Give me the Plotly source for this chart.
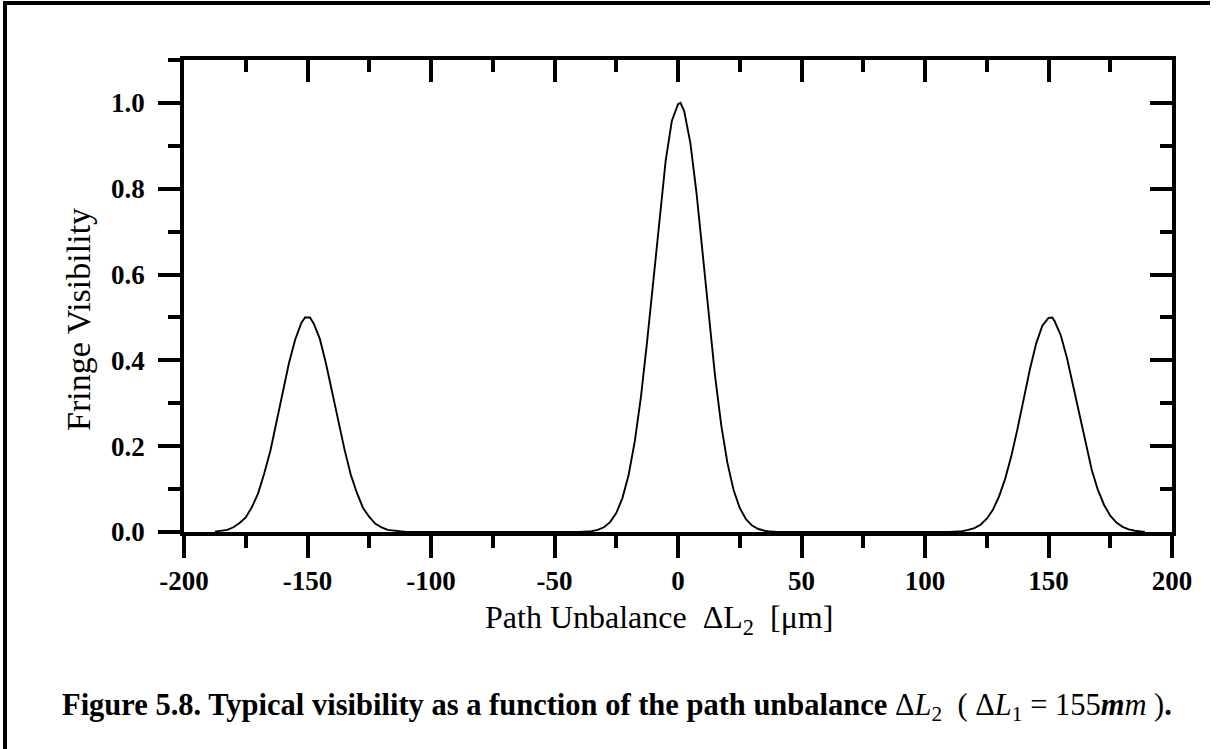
import plotly.graph_objects as go

# Fringe visibility against the path unbalance dL2 (three coherence peaks)
x_left = [-187.5, -185, -182.5, -180, -177.5, -175, -172.5, -170, -167.5, -165,
          -162.5, -160, -157.5, -155, -152.5, -151, -149, -147.5, -145, -142.5,
          -140, -137.5, -135, -132.5, -130, -127.5, -125, -122.5, -120, -117.5,
          -115, -112.5, -110]
v_left = [0.001, 0.003, 0.005, 0.011, 0.021, 0.034, 0.058, 0.090, 0.137, 0.190,
          0.258, 0.326, 0.394, 0.448, 0.487, 0.500, 0.500, 0.486, 0.450, 0.392,
          0.327, 0.255, 0.192, 0.134, 0.091, 0.056, 0.035, 0.019, 0.011, 0.005,
          0.003, 0.001, 0.000]

x_mid = [-40, -37.5, -35, -32.5, -30, -27.5, -25, -22.5, -20, -17.5, -15, -12.5,
         -10, -7.5, -5, -2.5, 0, 1, 2.5, 5, 7.5, 10, 12.5, 15, 17.5, 20, 22.5,
         25, 27.5, 30, 32.5, 35, 37.5, 40]
v_mid = [0.000, 0.001, 0.002, 0.005, 0.011, 0.023, 0.044, 0.079, 0.133, 0.211,
         0.315, 0.444, 0.589, 0.735, 0.865, 0.958, 0.997, 1.000, 0.981, 0.907,
         0.790, 0.648, 0.501, 0.364, 0.249, 0.161, 0.098, 0.056, 0.030, 0.015,
         0.007, 0.003, 0.001, 0.000]

x_right = [110, 112.5, 115, 117.5, 120, 122.5, 125, 127.5, 130, 132.5, 135, 137.5,
           140, 142.5, 145, 147.5, 150, 151.5, 152.5, 155, 157.5, 160, 162.5, 165,
           167.5, 170, 172.5, 175, 177.5, 180, 182.5, 185, 187.5, 189]
v_right = [0.000, 0.001, 0.002, 0.005, 0.009, 0.017, 0.031, 0.052, 0.083, 0.125,
           0.178, 0.242, 0.312, 0.380, 0.439, 0.481, 0.499, 0.500, 0.491, 0.458,
           0.405, 0.340, 0.270, 0.203, 0.145, 0.098, 0.063, 0.038, 0.022, 0.012,
           0.006, 0.003, 0.001, 0.000]

x_um = x_left + x_mid + x_right
visibility = v_left + v_mid + v_right

x_ticks = [-200, -150, -100, -50, 0, 50, 100, 150, 200]
x_tick_text = ["-200", "-150", "-100", "-50", "0", "50", "100", "150", "200"]
y_ticks = [0.0, 0.2, 0.4, 0.6, 0.8, 1.0]
y_tick_text = ["0.0", "0.2", "0.4", "0.6", "0.8", "1.0"]

W, H = 1228, 749
ML, MR, MT, MB = 184, 56, 60, 217
PW, PH = W - ML - MR, H - MT - MB


def px(xp):
    return (xp - ML) / PW


def py(yp):
    return (H - MB - yp) / PH


SERIF = "Liberation Serif"
AX_W = 3.5
TK_W = 3.5

fig = go.Figure()
fig.add_trace(go.Scatter(x=x_um, y=visibility, mode="lines",
                         line=dict(color="black", width=1.9),
                         showlegend=False, hoverinfo="skip"))
fig.add_trace(go.Scatter(x=[None], y=[None], xaxis="x2", yaxis="y2",
                         mode="lines", showlegend=False, hoverinfo="skip"))

tick_font = dict(family=SERIF, size=27, color="black", weight="bold")

fig.update_layout(
    width=W, height=H,
    margin=dict(l=ML, r=MR, t=MT, b=MB),
    paper_bgcolor="white", plot_bgcolor="white",
    xaxis=dict(range=[-200, 200], tickvals=x_ticks, ticktext=x_tick_text,
               ticks="outside", ticklen=22, tickwidth=TK_W, tickcolor="black",
               showline=True, linewidth=AX_W, linecolor="black",
               showgrid=False, zeroline=False, tickfont=tick_font,
               ticklabelstandoff=0,
               minor=dict(ticks="outside", ticklen=12, tickwidth=TK_W,
                          tickcolor="black", tick0=-175, dtick=50,
                          showgrid=False)),
    yaxis=dict(range=[0, 1.1], tickvals=y_ticks, ticktext=y_tick_text,
               ticks="outside", ticklen=22, tickwidth=TK_W, tickcolor="black",
               showline=True, linewidth=AX_W, linecolor="black",
               showgrid=False, zeroline=False, tickfont=tick_font,
               ticklabelstandoff=8,
               minor=dict(ticks="outside", ticklen=12, tickwidth=TK_W,
                          tickcolor="black", tick0=0.1, dtick=0.2,
                          showgrid=False)),
    xaxis2=dict(range=[-200, 200], overlaying="x", side="top", anchor="y",
                tickvals=x_ticks, ticks="inside", ticklen=22, tickwidth=TK_W,
                tickcolor="black", showline=True, linewidth=AX_W,
                linecolor="black", showgrid=False, zeroline=False,
                showticklabels=False,
                minor=dict(ticks="inside", ticklen=12, tickwidth=TK_W,
                           tickcolor="black", tick0=-175, dtick=50,
                           showgrid=False)),
    yaxis2=dict(range=[0, 1.1], overlaying="y", side="right", anchor="x",
                tickvals=y_ticks, ticks="inside", ticklen=22, tickwidth=TK_W,
                tickcolor="black", showline=True, linewidth=AX_W,
                linecolor="black", showgrid=False, zeroline=False,
                showticklabels=False,
                minor=dict(ticks="inside", ticklen=12, tickwidth=TK_W,
                           tickcolor="black", tick0=0.1, dtick=0.2,
                           showgrid=False)),
)

# axis titles
fig.add_annotation(text="Fringe Visibility", textangle=-90,
                   x=px(78), y=py(320), xref="paper", yref="paper",
                   xanchor="center", yanchor="middle", showarrow=False,
                   font=dict(family=SERIF, size=34, color="black"))
fig.add_annotation(text="Path Unbalance  \u0394L<sub>2</sub>  [\u03bcm]",
                   x=px(659), y=py(619), xref="paper", yref="paper",
                   xanchor="center", yanchor="middle", showarrow=False,
                   font=dict(family=SERIF, size=32, color="black"))

# figure caption
caption = ("<b>Figure 5.8. Typical visibility as a function of the path unbalance</b> "
           "\u0394<i>L</i><sub>2</sub>  ( \u0394<i>L</i><sub>1</sub> = 155"
           "<b><i>m</i></b><i>m</i> )<b>.</b>")
fig.add_annotation(text=caption, x=px(60), y=py(707), xref="paper", yref="paper",
                   xanchor="left", yanchor="middle", showarrow=False,
                   font=dict(family=SERIF, size=30.5, color="black"))

# outer frame edges (top and left)
fig.add_shape(type="line", xref="paper", yref="paper",
              x0=px(3), x1=px(1210), y0=py(3), y1=py(3),
              line=dict(color="black", width=4))
fig.add_shape(type="line", xref="paper", yref="paper",
              x0=px(5), x1=px(5), y0=py(1), y1=py(749),
              line=dict(color="black", width=4))

fig.write_html("out.html", config={"displayModeBar": False})
